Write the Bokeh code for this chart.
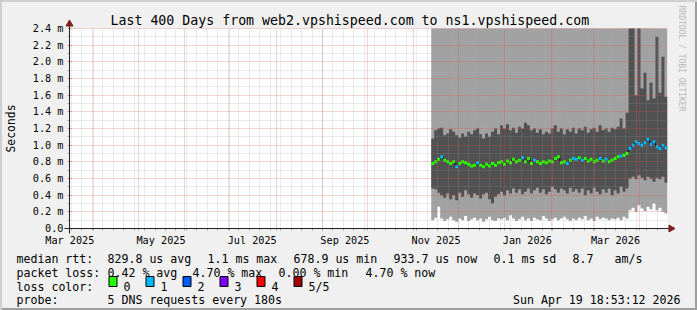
from datetime import datetime, timedelta
from math import pi
from bokeh.plotting import figure
from bokeh.layouts import column
from bokeh.models import Range1d, FixedTicker, Title, ColumnDataSource
from bokeh.core.properties import value
from bokeh.embed import file_html
from bokeh.resources import INLINE

# ---------------- data ----------------
TITLE = "Last 400 Days from web2.vpshispeed.com to ns1.vpshispeed.com"
WATERMARK = "RRDTOOL / TOBI OETIKER"
Y_LABEL = "Seconds"
END = datetime(2026, 4, 19, 18, 53, 12)
START = END - timedelta(days=400)
DATA_START = datetime(2025, 11, 12, 18, 0)
STEP_DAYS = 2

# inner smoke band (2nd..4th ping), ms
smoke_hi = [1.08, 1.18, 1.20, 1.21, 1.12, 1.14, 1.19, 1.16, 1.12, 1.09,
            1.14, 1.10, 1.16, 1.13, 1.18, 1.20, 1.13, 1.08, 1.14, 1.10,
            1.16, 1.20, 1.13, 1.24, 1.20, 1.25, 1.18, 1.21, 1.15, 1.22,
            1.20, 1.27, 1.24, 1.18, 1.20, 1.15, 1.19, 1.13, 1.16, 1.14,
            1.20, 1.24, 1.16, 1.20, 1.13, 1.19, 1.16, 1.21, 1.14, 1.20,
            1.18, 1.22, 1.15, 1.19, 1.21, 1.16, 1.24, 1.18, 1.20, 1.16,
            1.21, 1.19, 1.22, 1.32, 1.20, 1.39, 2.60, 2.60, 1.60, 2.60,
            1.68, 1.87, 1.54, 1.75, 1.56, 2.30, 1.63, 2.06, 1.58]
smoke_lo = [0.48, 0.47, 0.43, 0.40, 0.37, 0.42, 0.35, 0.40, 0.34, 0.43,
            0.38, 0.46, 0.41, 0.37, 0.42, 0.40, 0.36, 0.41, 0.43, 0.35,
            0.30, 0.38, 0.41, 0.44, 0.40, 0.46, 0.42, 0.48, 0.43, 0.47,
            0.41, 0.44, 0.48, 0.42, 0.46, 0.49, 0.43, 0.47, 0.41, 0.44,
            0.50, 0.47, 0.43, 0.48, 0.46, 0.42, 0.49, 0.44, 0.47, 0.43,
            0.48, 0.40, 0.46, 0.42, 0.49, 0.44, 0.41, 0.47, 0.43, 0.48,
            0.40, 0.46, 0.42, 0.50, 0.44, 0.48, 0.60, 0.62, 0.59, 0.64,
            0.61, 0.58, 0.62, 0.60, 0.56, 0.61, 0.59, 0.62, 0.55]
# lowest ping (top of the white gap), ms
ping_min = [0.10, 0.13, 0.26, 0.12, 0.09, 0.11, 0.14, 0.10, 0.08, 0.12,
            0.10, 0.15, 0.09, 0.11, 0.13, 0.10, 0.12, 0.08, 0.11, 0.14,
            0.10, 0.09, 0.12, 0.11, 0.13, 0.10, 0.16, 0.12, 0.09, 0.11,
            0.14, 0.10, 0.12, 0.09, 0.13, 0.11, 0.10, 0.15, 0.12, 0.09,
            0.11, 0.13, 0.10, 0.12, 0.14, 0.11, 0.09, 0.12, 0.10, 0.13,
            0.11, 0.15, 0.10, 0.12, 0.09, 0.14, 0.11, 0.13, 0.12, 0.10,
            0.12, 0.11, 0.13, 0.10, 0.14, 0.12, 0.22, 0.25, 0.20, 0.28,
            0.24, 0.21, 0.26, 0.23, 0.30, 0.22, 0.25, 0.20, 0.18]
ping_max_top = 2.6  # highest ping lies above the chart's top
median = [0.78, 0.80, 0.83, 0.86, 0.82, 0.80, 0.78, 0.80, 0.74, 0.78,
          0.80, 0.79, 0.77, 0.75, 0.76, 0.79, 0.76, 0.74, 0.77, 0.75,
          0.78, 0.76, 0.79, 0.80, 0.77, 0.81, 0.79, 0.83, 0.80, 0.82,
          0.85, 0.80, 0.84, 0.78, 0.82, 0.80, 0.78, 0.80, 0.79, 0.81,
          0.80, 0.84, 0.86, 0.79, 0.80, 0.78, 0.82, 0.84, 0.83, 0.85,
          0.82, 0.84, 0.81, 0.83, 0.80, 0.82, 0.84, 0.81, 0.83, 0.80,
          0.82, 0.84, 0.86, 0.87, 0.88, 0.90, 0.96, 1.00, 1.04, 1.02,
          1.00, 1.03, 1.07, 1.01, 1.04, 0.98, 0.96, 1.00, 0.97]
loss = [0, 0, 0, 1, 0, 0, 0, 0, 1, 0,
        0, 0, 0, 0, 0, 1, 0, 0, 0, 0,
        0, 0, 0, 0, 0, 0, 0, 0, 0, 0,
        1, 0, 0, 0, 1, 0, 0, 0, 0, 0,
        0, 0, 0, 0, 0, 1, 0, 1, 1, 0,
        1, 0, 0, 0, 0, 0, 1, 0, 1, 0,
        0, 0, 0, 1, 0, 0, 1, 1, 1, 1,
        1, 1, 1, 1, 1, 1, 1, 1, 1]

loss_labels = ["0", "1", "2", "3", "4", "5/5"]
loss_colors = ["#26ff00", "#00b8ff", "#0059ff", "#7e00ff", "#ff0000", "#a10000"]

y_ticks = [0.0, 0.2, 0.4, 0.6, 0.8, 1.0, 1.2, 1.4, 1.6, 1.8, 2.0, 2.2, 2.4]
y_tick_labels = ["0.0", "0.2 m", "0.4 m", "0.6 m", "0.8 m", "1.0 m", "1.2 m",
                 "1.4 m", "1.6 m", "1.8 m", "2.0 m", "2.2 m", "2.4 m"]
y_minor = [0.1, 0.3, 0.5, 0.7, 0.9, 1.1, 1.3, 1.5, 1.7, 1.9, 2.1, 2.3]

x_label_dates = [datetime(2025, 3, 16), datetime(2025, 5, 16), datetime(2025, 7, 16),
                 datetime(2025, 9, 16), datetime(2025, 11, 16), datetime(2026, 1, 16),
                 datetime(2026, 3, 16)]
x_label_texts = ["Mar 2025", "May 2025", "Jul 2025", "Sep 2025", "Nov 2025",
                 "Jan 2026", "Mar 2026"]

legend_rows = [
    ["median rtt:", "829.8 us avg", "1.1 ms max", "678.9 us min",
     "933.7 us now", "0.1 ms sd", "8.7", "am/s"],
    ["packet loss:", "0.42 % avg", "4.70 % max", "0.00 % min", "4.70 % now"],
    ["loss color:"],
    ["probe:", "5 DNS requests every 180s"],
]
timestamp = "Sun Apr 19 18:53:12 2026"


def ms(d):
    return (d - datetime(1970, 1, 1)).total_seconds() * 1000.0


# ---------------- layout constants ----------------
W, H = 697, 310
FL, FR, FT, FB = 67, 667, 28, 228
TOP_H = 248
FONT = "DejaVu Sans Mono"
BG = "#f0f0f0"
MS_PER_PX = (ms(END) - ms(START)) / (FR - FL)
Y_PER_PX = 2.4 / (FB - FT)

# ---------------- main chart ----------------
p = figure(width=W, height=TOP_H, output_backend="svg", toolbar_location=None,
           x_axis_type="datetime", title=TITLE,
           x_range=Range1d(ms(START), ms(END)), y_range=Range1d(0, 2.4),
           min_border_left=FL, min_border_right=W - FR,
           min_border_top=FT, min_border_bottom=TOP_H - FB)
p.background_fill_color = "#ffffff"
p.border_fill_color = BG
p.border_fill_alpha = 0.0
p.outline_line_color = None

p.title.align = "left"
p.title.offset = 41
p.title.standoff = 1
p.title.text_font = FONT
p.title.text_font_size = "13.25px"
p.title.text_font_style = "normal"
p.title.text_color = "#000000"

p.add_layout(Title(text=WATERMARK, align="left", offset=-23, standoff=19,
                   text_font=FONT, text_font_size="8px", text_font_style="normal",
                   text_color="#b8b8b8"), "right")

n = len(median)
t0 = [ms(DATA_START + timedelta(days=STEP_DAYS * i)) for i in range(n)]
t1 = [ms(DATA_START + timedelta(days=STEP_DAYS * (i + 1))) for i in range(n)]
tx = t0 + [t1[-1]]


def ext(a):
    return list(a) + [a[-1]]


# outer smoke (lowest .. highest ping)
p.varea_step(x=tx, y1=ext(ping_min), y2=[ping_max_top] * (n + 1),
             step_mode="after", fill_color="#a2a2a2")
# inner smoke
p.varea_step(x=tx, y1=ext(smoke_lo), y2=ext(smoke_hi),
             step_mode="after", fill_color="#515151")
# median connector
p.step(x=tx, y=ext(median), mode="after", line_color="#101010", line_width=1)
# median marks coloured by loss
hh = 0.018
src = ColumnDataSource(dict(left=t0, right=t1,
                            bottom=[m - hh for m in median],
                            top=[m + hh for m in median],
                            color=[loss_colors[i] for i in loss]))
p.quad(left="left", right="right", bottom="bottom", top="top", source=src,
       fill_color="color", line_color=None)

# grids
month_starts = []
yy, mm = 2025, 4
while datetime(yy, mm, 1) <= END:
    month_starts.append(ms(datetime(yy, mm, 1)))
    mm += 1
    if mm > 12:
        mm, yy = 1, yy + 1
weeks = []
d = datetime(2025, 3, 17)
while d < END:
    weeks.append(ms(d))
    d += timedelta(days=7)

p.xgrid.ticker = FixedTicker(ticks=month_starts, minor_ticks=weeks)
p.ygrid.ticker = FixedTicker(ticks=y_ticks, minor_ticks=y_minor)
for g in (p.xgrid[0], p.ygrid[0]):
    g.level = "guide"
    g.grid_line_color = "#de5050"
    g.grid_line_alpha = 0.5
    g.grid_line_dash = "1 1"
    g.minor_grid_line_color = "#9a9a9a"
    g.minor_grid_line_alpha = 0.4
    g.minor_grid_line_dash = "1 1"
# top grid line (the grid skips the range end)
p.segment(x0=[ms(START)], y0=[y_ticks[-1]], x1=[ms(END)], y1=[y_ticks[-1]],
          line_color="#de5050", line_alpha=0.5, line_dash="1 1", level="overlay")

# axes
p.xaxis.ticker = FixedTicker(ticks=[ms(d) for d in x_label_dates],
                             minor_ticks=sorted(weeks + month_starts))
p.xaxis.major_label_overrides = {ms(d): t for d, t in zip(x_label_dates, x_label_texts)}
p.yaxis.ticker = FixedTicker(ticks=y_ticks, minor_ticks=y_minor)
p.yaxis.major_label_overrides = {v: t for v, t in zip(y_ticks, y_tick_labels)}
for ax in (p.xaxis[0], p.yaxis[0]):
    ax.axis_line_color = "#1f1f1f"
    ax.major_label_text_font = FONT
    ax.major_label_text_font_size = "10.2px"
    ax.major_label_text_color = "#000000"
    ax.minor_tick_line_color = "#a8a8a8"
    ax.minor_tick_in = 0
    ax.minor_tick_out = 2
p.xaxis.major_tick_line_color = None
p.xaxis.major_tick_in = 0
p.xaxis.major_tick_out = 0
p.xaxis.major_label_standoff = 4
p.yaxis.major_tick_line_color = "#de5050"
p.yaxis.major_tick_line_alpha = 0.6
p.yaxis.major_tick_in = 2
p.yaxis.major_tick_out = 2
p.yaxis.major_label_standoff = 4
p.yaxis.axis_label = Y_LABEL
p.yaxis.axis_label_text_font = FONT
p.yaxis.axis_label_text_font_size = "11.4px"
p.yaxis.axis_label_text_font_style = "normal"
p.yaxis.axis_label_text_color = "#000000"
p.yaxis.axis_label_standoff = 12

# axis extensions and arrow heads (drawn above the frame clip)
x_lo, x_hi = ms(START), ms(END)
p.segment(x0=[x_lo - 5 * MS_PER_PX, x_lo], y0=[0, -5 * Y_PER_PX],
          x1=[x_hi + 3 * MS_PER_PX, x_lo], y1=[0, 2.4 + 4 * Y_PER_PX],
          line_color="#1f1f1f", line_width=1, level="overlay")
p.scatter(x=[x_lo, x_hi + 3.5 * MS_PER_PX], y=[2.4 + 4.5 * Y_PER_PX, 0],
          marker="triangle", size=7, angle=[0, -pi / 2],
          fill_color="#7f1f1f", line_color="#7f1f1f", level="overlay")

# ---------------- legend strip (canvas pixel coordinates) ----------------
LH = H - TOP_H
q = figure(width=W, height=LH, output_backend="svg", toolbar_location=None,
           x_range=Range1d(0, W), y_range=Range1d(H, TOP_H),
           min_border=0, x_axis_location=None, y_axis_location=None)
q.title = None
q.xgrid.visible = False
q.ygrid.visible = False
q.outline_line_color = None
q.background_fill_alpha = 0.0
q.border_fill_alpha = 0.0

row_y = [258, 272, 286, 299]
row_x = [
    [16, 107, 207, 293, 393, 493, 572, 614],
    [16, 107, 192, 278, 365],
    [16],
    [16, 107],
]
tx_, ty_, tt_ = [], [], []
for row, xs, yv in zip(legend_rows, row_x, row_y):
    for text, xv in zip(row, xs):
        tx_.append(xv)
        ty_.append(yv)
        tt_.append(text)
box_x = [108, 145, 182, 219, 256, 293]
for xv, t in zip(box_x, loss_labels):
    tx_.append(xv + 15)
    ty_.append(286)
    tt_.append(t)
q.text(x=tx_, y=ty_, text=tt_, text_font=value(FONT), text_font_size=value("11.6px"),
       text_align="left", text_baseline="alphabetic", text_color="#000000")
q.text(x=[680], y=[299], text=[timestamp], text_font=value(FONT),
       text_font_size=value("11.6px"), text_align="right", text_baseline="alphabetic",
       text_color="#000000")
q.quad(left=[x + 0.5 for x in box_x], right=[x + 8.5 for x in box_x],
       top=[276.0] * 6, bottom=[286.0] * 6,
       fill_color=loss_colors, line_color="#000000", line_width=1)

layout = column(p, column(q), spacing=0,
                styles={"background-color": BG,
                        "box-shadow": "inset 2px 2px 0 0 #cfcfcf, inset -2px -2px 0 0 #9e9e9e"})

open("out.html", "w").write(file_html(layout, INLINE))
